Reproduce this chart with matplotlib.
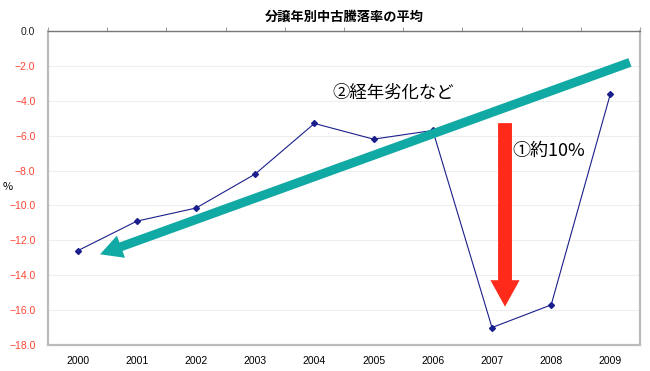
import matplotlib
matplotlib.use("Agg")
import matplotlib.pyplot as plt

plt.rcParams['font.family'] = ['Noto Sans CJK JP', 'DejaVu Sans']

years = ['2000', '2001', '2002', '2003', '2004', '2005', '2006', '2007', '2008', '2009']
rates = [-12.6, -10.9, -10.15, -8.2, -5.3, -6.2, -5.7, -17.0, -15.7, -3.6]
yticks = [0, -2, -4, -6, -8, -10, -12, -14, -16, -18]

fig = plt.figure(figsize=(6.5, 3.71), dpi=100)
ax = fig.add_axes([0.0738, 0.0701, 0.9108, 0.8463])

x = list(range(len(years)))
ax.plot(x, rates, color='#1a1f8c', lw=0.8, marker='D', markersize=3)

ax.set_xlim(-0.5, 9.5)
ax.set_ylim(-18, 0)
ax.set_yticks(yticks)
ax.set_yticklabels([f"{v:.1f}".replace('-', '\u2212') for v in yticks],
                   fontsize=7.5, family=['Liberation Sans', 'DejaVu Sans'])
for lab, v in zip(ax.get_yticklabels(), yticks):
    lab.set_color('#222222' if v == 0 else '#ff4433')
ax.yaxis.grid(True, color='#eeeeee', lw=0.8)
ax.set_axisbelow(True)
ax.tick_params(axis='y', length=0, pad=9)

ax.set_xticks(x)
ax.set_xticklabels(years, fontsize=7.5, family=['Liberation Sans', 'DejaVu Sans'])
ax.set_xticks([i - 0.5 for i in range(11)], minor=True)
ax.tick_params(axis='x', which='major', length=0, pad=8)
ax.tick_params(axis='x', which='minor', bottom=False, top=True, direction='out',
               length=3, color='#888888')

for s in ['left', 'bottom', 'right']:
    ax.spines[s].set_color('#bbbbbb')
    ax.spines[s].set_linewidth(1.6)
ax.spines['top'].set_color('#777777')
ax.spines['top'].set_linewidth(1.0)

fig.text(0.012, 0.496, '%', fontsize=8, ha='center', va='center')
ax.set_title('分譲年別中古騰落率の平均', fontsize=9.5, fontweight='bold', pad=7)

# 経年劣化の矢印
ax.annotate('', xy=(0.38, -12.8), xytext=(9.33, -1.8),
            arrowprops=dict(arrowstyle='simple,head_length=1.6,head_width=1.7,tail_width=0.65',
                            mutation_scale=10, color='#10a9a3', lw=0,
                            shrinkA=0, shrinkB=0))
# 下落の矢印
ax.annotate('', xy=(7.22, -15.8), xytext=(7.22, -5.28),
            arrowprops=dict(arrowstyle='simple,head_length=1.9,head_width=2.1,tail_width=1.0',
                            mutation_scale=10, color='#ff2a1a', lw=0,
                            shrinkA=0, shrinkB=0))

ax.text(5.34, -3.55, '②経年劣化など', fontsize=12.5, ha='center', va='center')
ax.text(7.35, -6.9, '①約10%', fontsize=13, ha='left', va='center')

fig.savefig('out.png', dpi=100)
